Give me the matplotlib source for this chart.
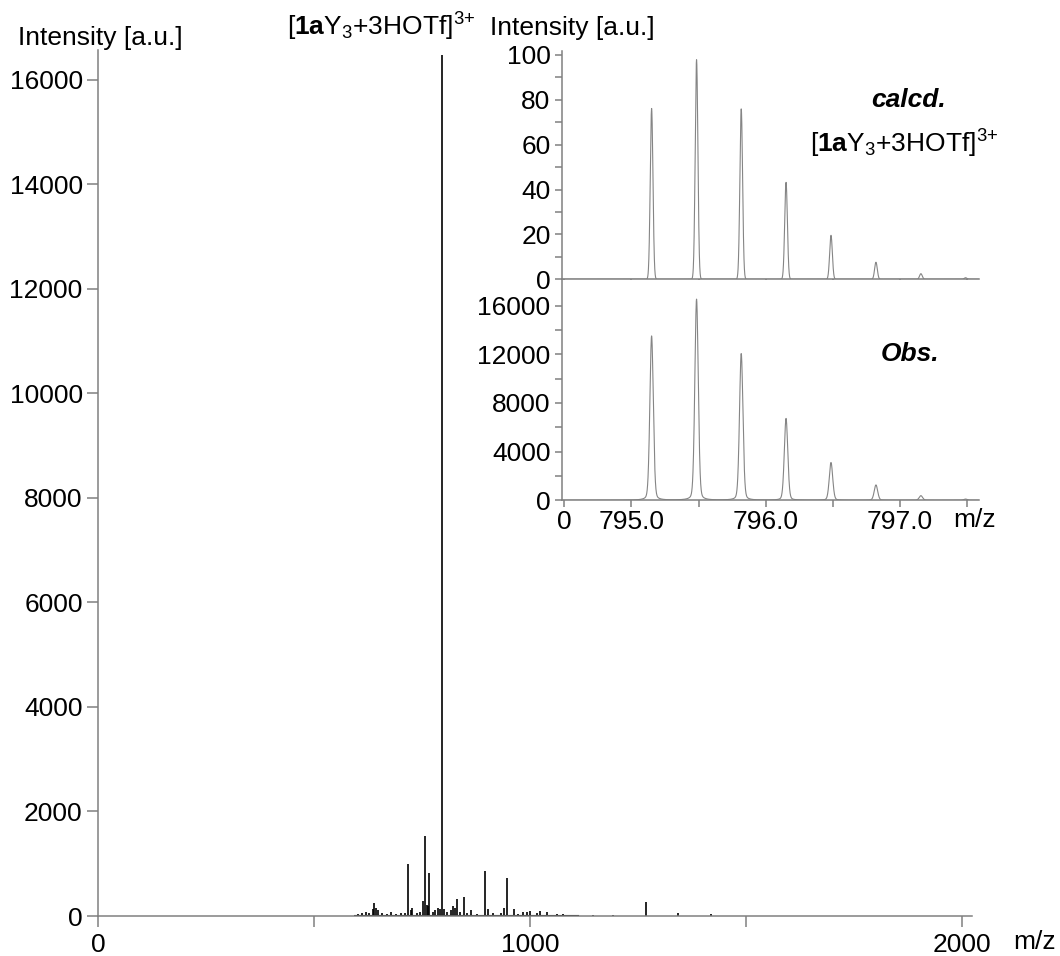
import matplotlib
matplotlib.use("Agg")
import matplotlib.pyplot as plt
import numpy as np

plt.rcParams['font.family'] = ['Liberation Sans', 'DejaVu Sans']
plt.rcParams['mathtext.fontset'] = 'custom'
plt.rcParams['mathtext.rm'] = 'Liberation Sans'
plt.rcParams['mathtext.bf'] = 'Liberation Sans:bold'
plt.rcParams['mathtext.it'] = 'Liberation Sans:italic'

# full spectrum: peak list (m/z, intensity)
ms_mz = [602.6, 610, 620, 628, 636, 639, 643.5, 648, 656.7, 668, 677.5, 690,
         701, 710.6, 717.6, 724, 727.6, 737.7, 745, 751.6, 757, 760.8, 764.6,
         767, 774.7, 780, 787.8, 791.7, 796.3, 801, 807, 817, 822.5, 826.4,
         831, 838, 846.5, 853, 862.5, 876.5, 895, 903.5, 915, 932, 940.6, 946,
         963, 973, 984.5, 992, 1000, 1015.5, 1023, 1038.6, 1061.7, 1077, 1100,
         1146.5, 1193, 1268.5, 1301, 1343, 1418]
ms_int = [38, 64, 77, 50, 128, 240, 147, 115, 50, 38, 70, 38,
          50, 64, 995, 115, 147, 50, 83, 293, 1530, 210, 191,
          817, 83, 115, 147, 128, 16480, 128, 83, 115, 191, 147,
          320, 83, 370, 50, 115, 32, 860, 128, 50, 50, 147, 721,
          128, 38, 83, 70, 102, 64, 96, 77, 45, 38, 26,
          13, 13, 262, 6, 51, 38]

# isotope pattern (inset)
iso_mz = [795.150, 795.485, 795.818, 796.152, 796.487, 796.822, 797.157, 797.490]
calcd = [76.2, 97.9, 76.0, 43.2, 19.6, 7.6, 2.5, 0.7]
obs = [13500, 16520, 12050, 6720, 3100, 1260, 380, 100]

spine_col = '#808080'
line_col = '#858585'
fs = 19
formula = r'[$\mathbf{1a}$Y$_3$+3HOTf]$^{3\text{+}}$'

fig = plt.figure(figsize=(10.6, 9.56), dpi=100)
W, H = 1060, 956


def box(x0, y0, x1, y1):
    return [x0 / W, 1 - y1 / H, (x1 - x0) / W, (y1 - y0) / H]


def style(ax, length):
    for s in ['top', 'right']:
        ax.spines[s].set_visible(False)
    for s in ['left', 'bottom']:
        ax.spines[s].set_color(spine_col)
        ax.spines[s].set_linewidth(1.1)
    ax.tick_params(which='both', direction='out', length=length, width=1.1,
                   color=spine_col, labelsize=fs, pad=3)


# main spectrum
ax = fig.add_axes(box(98, 50, 972, 916))
ax.vlines(ms_mz, 0, ms_int, color='black', lw=1.2)
ax.axhline(0, xmin=(595 / 2023), xmax=(1110 / 2023), color='black', lw=1.5)
ax.set_xlim(0, 2023)
ax.set_ylim(0, 16570)
style(ax, 8)
ax.set_xticks(np.arange(0, 2001, 500))
ax.set_xticklabels(['0', '', '1000', '', '2000'])
ax.set_yticks(np.arange(0, 16001, 2000))
ax.tick_params(axis='x', pad=4)
fig.text(18 / W, 1 - 38 / H, 'Intensity [a.u.]', fontsize=fs, ha='left', va='center')
fig.text(1013 / W, 1 - 942 / H, 'm/z', fontsize=fs, ha='left', va='center')
fig.text(287 / W, 1 - 27 / H, formula, fontsize=fs, ha='left', va='center')

# inset profiles
x = np.linspace(794.48, 797.59, 4000)
y_calc = np.zeros_like(x)
y_obs = np.zeros_like(x)
for c, hc, ho in zip(iso_mz, calcd, obs):
    y_calc += hc * np.exp(-(x - c) ** 2 / (2 * 0.010 ** 2))
    g = np.exp(-(x - c) ** 2 / (2 * 0.013 ** 2))
    lo = 1 / (1 + ((x - c) / 0.014) ** 2)
    y_obs += ho * (0.8 * g + 0.2 * lo)

xt = np.arange(794.5, 797.51, 0.5)
xlab = ['0', '795.0', '', '796.0', '', '797.0', '']

ax1 = fig.add_axes(box(561.7, 50.7, 979, 279.3))
ax1.plot(x, y_calc, color=line_col, lw=0.8)
ax1.set_xlim(794.48, 797.59)
ax1.set_ylim(0, 101.9)
style(ax1, 5)
ax1.set_xticks(xt)
ax1.set_xticklabels([])
ax1.set_yticks(np.arange(0, 101, 20))
ax1.set_yticks(np.arange(10, 100, 20), minor=True)

ax2 = fig.add_axes(box(561.7, 280, 979, 500.3))
ax2.plot(x, y_obs, color=line_col, lw=0.8)
ax2.set_xlim(794.48, 797.59)
ax2.set_ylim(0, 18100)
style(ax2, 5)
ax2.set_xticks(xt)
ax2.set_xticklabels(xlab)
ax2.tick_params(axis='x', pad=2)
ax2.set_yticks(np.arange(0, 16001, 4000))
ax2.set_yticks(np.arange(2000, 18000, 4000), minor=True)

fig.text(490 / W, 1 - 28 / H, 'Intensity [a.u.]', fontsize=fs, ha='left', va='center')
fig.text(909 / W, 1 - 100 / H, 'calcd.', fontsize=fs, ha='center', va='center',
         fontweight='bold', fontstyle='italic')
fig.text(810 / W, 1 - 144 / H, formula, fontsize=fs, ha='left', va='center')
fig.text(910 / W, 1 - 354 / H, 'Obs.', fontsize=fs, ha='center', va='center',
         fontweight='bold', fontstyle='italic')
fig.text(953 / W, 1 - 520 / H, 'm/z', fontsize=fs, ha='left', va='center')

fig.savefig('out.png', dpi=100)
